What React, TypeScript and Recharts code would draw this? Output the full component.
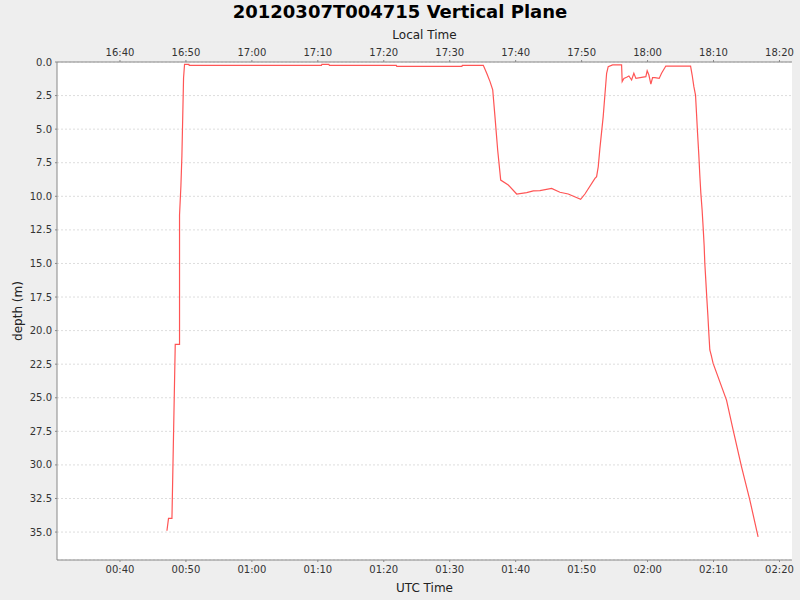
import React from 'react';
import {
  LineChart,
  Line,
  XAxis,
  YAxis,
  CartesianGrid,
  Label,
} from 'recharts';

// UTC time in minutes after 00:00
const utcMinutes = [
  47.12, 47.36, 47.88, 48.38, 49.03, 49.03, 49.24, 49.39, 49.64, 49.79,
  50.45, 50.5, 70.55, 70.61, 71.67, 71.75, 81.9, 81.97, 91.85, 91.91,
  95.09, 95.61, 96.11, 96.52, 96.86, 97.27, 97.73, 98.88, 100.15, 101.67,
  102.67, 103.68, 105.45, 106.71, 107.97, 109.85, 110.5, 112.02, 112.27, 112.52,
  112.77, 113.27, 113.79, 114.03, 114.7, 116.06, 116.15, 116.41, 116.82, 117.17,
  117.58, 117.92, 118.23, 119.09, 119.74, 119.94, 120.2, 120.5, 120.76, 121.11,
  121.76, 122.12, 122.77, 126.52, 126.76, 127.02, 127.27, 127.42, 127.58, 127.77,
  127.92, 128.08, 128.27, 128.42, 128.58, 128.68, 128.83, 128.98, 129.14, 129.29,
  129.44, 129.64, 129.94, 131.97, 132.97, 134.24, 135.5, 136.76,
];

// depth in metres
const depthM = [
  34.9, 33.98, 33.98, 21.02, 21.02, 11.39, 9.21, 6.98, 1.19, 0.17,
  0.17, 0.25, 0.25, 0.17, 0.17, 0.25, 0.25, 0.32, 0.32, 0.25,
  0.25, 0.84, 1.46, 2.08, 4.07, 6.55, 8.79, 9.16, 9.83, 9.73,
  9.6, 9.58, 9.41, 9.7, 9.83, 10.22, 9.83, 8.66, 8.54, 7.8,
  6.43, 4.07, 0.84, 0.35, 0.22, 0.22, 1.46, 1.22, 1.14, 1.04,
  1.34, 0.84, 1.22, 1.14, 1.09, 0.65, 0.97, 1.64, 1.17, 1.17,
  1.22, 0.84, 0.3, 0.3, 0.97, 1.84, 2.46, 3.82, 5.31, 6.92,
  8.41, 9.78, 11.02, 12.26, 13.68, 14.99, 16.26, 17.55, 18.84, 20.2,
  21.44, 21.8, 22.44, 25.17, 27.4, 30.13, 32.6, 35.35,
];

const timeTicks = [40, 50, 60, 70, 80, 90, 100, 110, 120, 130, 140];
const depthTicks = [0, 2.5, 5, 7.5, 10, 12.5, 15, 17.5, 20, 22.5, 25, 27.5, 30, 32.5, 35];
const timeDomain = [30.45, 141.9];
const depthDomain = [0, 37.08];
const localOffsetMinutes = -8 * 60;

const font = '"DejaVu Sans", Verdana, sans-serif';
const axisGray = '#888888';
const tickStyle = { fontSize: 10, fill: '#333333', fontFamily: font };

const pad = (n: number) => (n < 10 ? `0${n}` : `${n}`);
const formatClock = (m: number) => {
  const total = ((Math.round(m) % 1440) + 1440) % 1440;
  return `${pad(Math.floor(total / 60))}:${pad(total % 60)}`;
};

const data = utcMinutes.map((t, i) => ({ t, depth: depthM[i] }));

export default function App() {
  return (
    <div
      style={{
        position: 'absolute',
        left: 0,
        top: 0,
        width: 800,
        height: 600,
        background: '#eeeeee',
        fontFamily: font,
      }}
    >
      <div
        style={{
          position: 'absolute',
          top: 3,
          left: 0,
          width: 800,
          textAlign: 'center',
          fontSize: 18,
          lineHeight: '18px',
          fontWeight: 'bold',
          color: '#000',
        }}
      >
        20120307T004715 Vertical Plane
      </div>
      <LineChart
        width={800}
        height={600}
        data={data}
        margin={{ top: 30, right: 8, bottom: 0, left: 0 }}
      >
        <CartesianGrid
          vertical={false}
          stroke="#dddddd"
          strokeDasharray="2 2"
          fill="#ffffff"
          xAxisId="utc"
        />
        <XAxis
          xAxisId="utc"
          dataKey="t"
          type="number"
          domain={timeDomain}
          ticks={timeTicks}
          allowDataOverflow
          tickFormatter={formatClock}
          tick={tickStyle}
          tickSize={2}
          tickMargin={4}
          stroke={axisGray}
          height={40}
        >
          <Label
            value="UTC Time"
            position="insideBottom"
            offset={8}
            style={{ fontSize: 12, fill: '#222', fontFamily: font }}
          />
        </XAxis>
        <XAxis
          xAxisId="local"
          orientation="top"
          dataKey="t"
          type="number"
          domain={timeDomain}
          ticks={timeTicks}
          allowDataOverflow
          tickFormatter={(m) => formatClock(m + localOffsetMinutes)}
          tick={tickStyle}
          tickSize={2}
          tickMargin={4}
          stroke={axisGray}
          height={32}
        >
          <Label
            value="Local Time"
            position="insideTop"
            offset={0}
            style={{ fontSize: 12, fill: '#222', fontFamily: font }}
          />
        </XAxis>
        <YAxis
          type="number"
          reversed
          domain={depthDomain}
          ticks={depthTicks}
          allowDataOverflow
          tickFormatter={(v) => v.toFixed(1)}
          tick={tickStyle}
          tickSize={2}
          tickMargin={3}
          stroke={axisGray}
          width={57}
        >
          <Label
            content={({ viewBox }: any) => {
              const cy = viewBox.y + viewBox.height / 2;
              return (
                <text
                  x={18}
                  y={cy}
                  transform={`rotate(-90, 18, ${cy})`}
                  textAnchor="middle"
                  dominantBaseline="central"
                  style={{ fontSize: 12, fill: '#222', fontFamily: font }}
                >
                  depth (m)
                </text>
              );
            }}
          />
        </YAxis>
        <Line
          xAxisId="local"
          dataKey="depth"
          stroke="transparent"
          dot={false}
          activeDot={false}
          isAnimationActive={false}
          legendType="none"
        />
        <Line
          xAxisId="utc"
          type="linear"
          dataKey="depth"
          stroke="#ff5555"
          strokeWidth={1.2}
          dot={false}
          activeDot={false}
          isAnimationActive={false}
        />
      </LineChart>
    </div>
  );
}
